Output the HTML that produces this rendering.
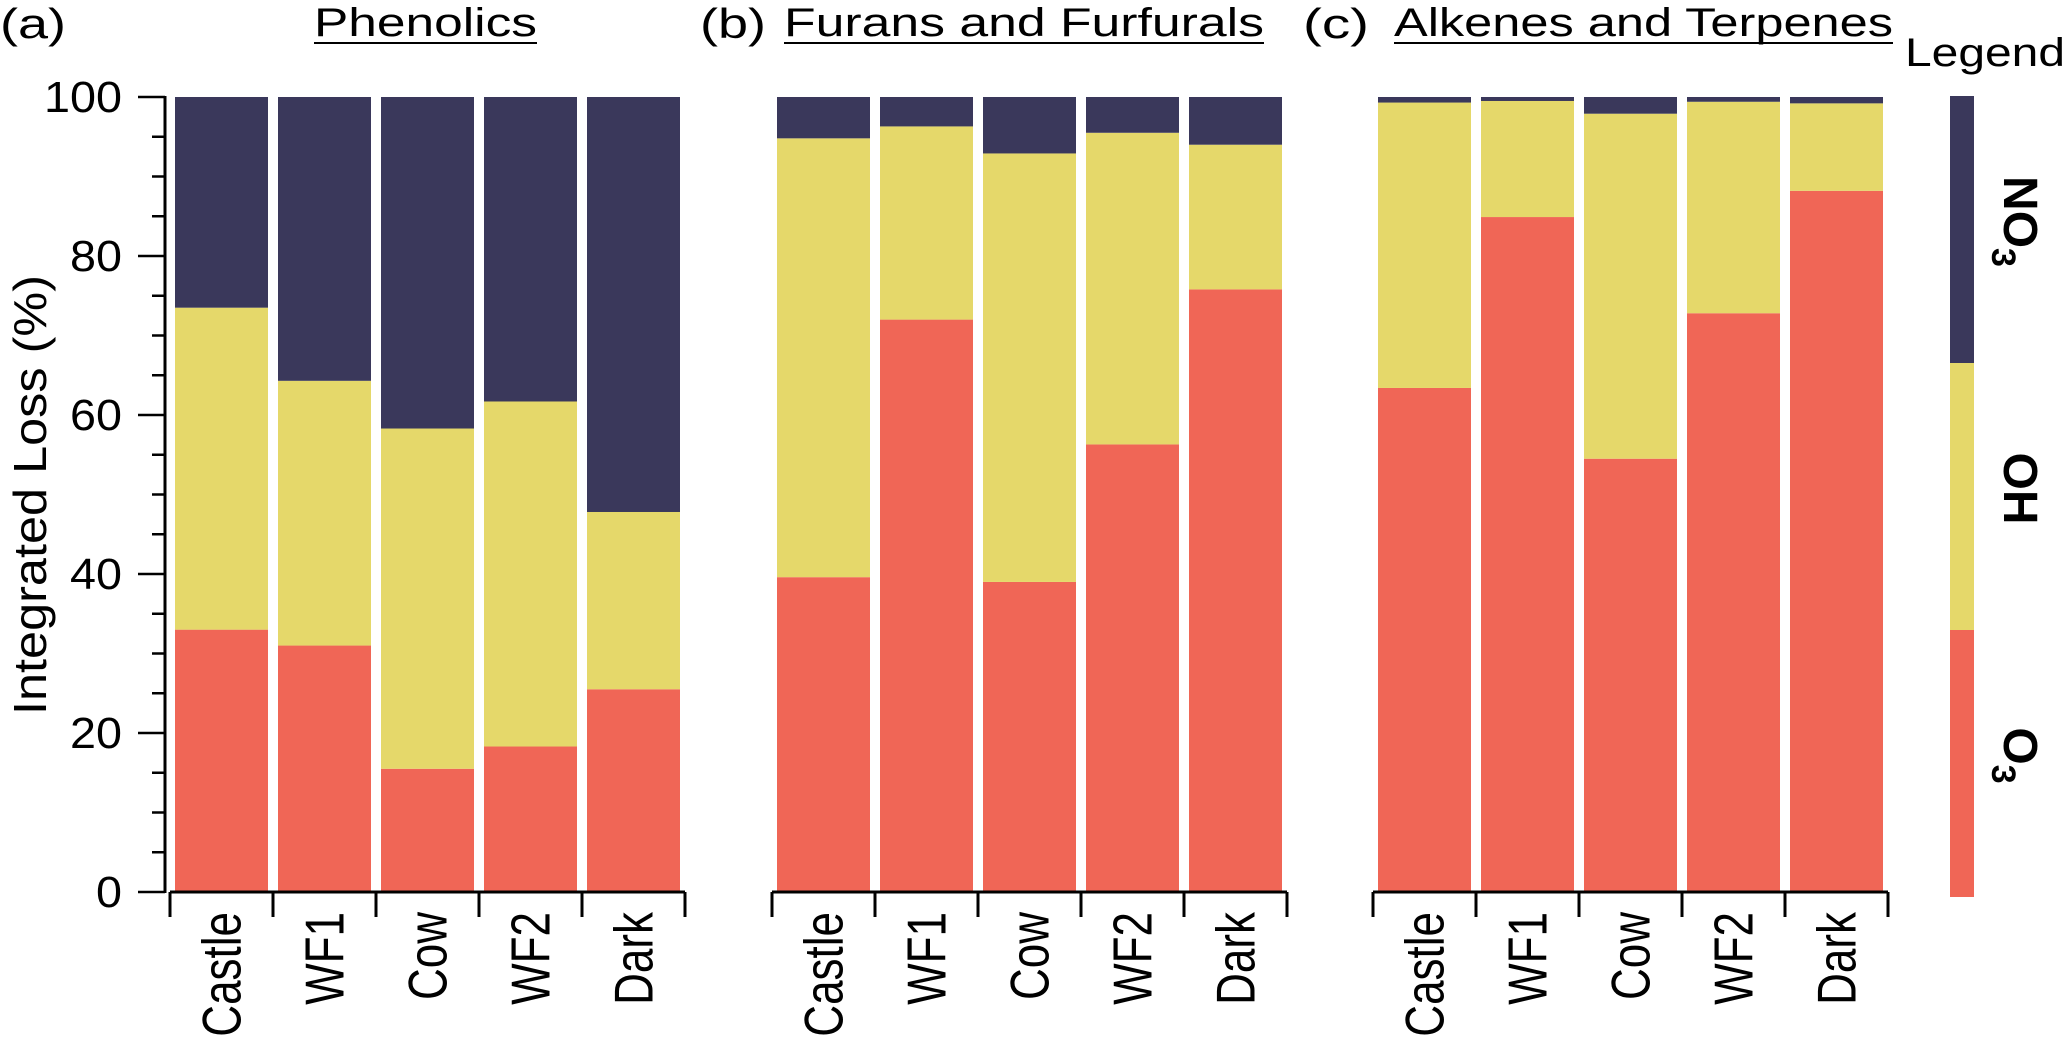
<!DOCTYPE html>
<html><head><meta charset="utf-8"><style>
body{margin:0;background:#fff;}
svg{display:block;font-family:"Liberation Sans",sans-serif;}
</style></head><body>
<svg id="chart" width="2067" height="1053" viewBox="0 0 2067 1053" xmlns="http://www.w3.org/2000/svg"></svg>
<script>
const categories = ["Castle","WF1","Cow","WF2","Dark"];
const panelTitles = ["Phenolics","Furans and Furfurals","Alkenes and Terpenes"];
const panelLetters = ["(a)","(b)","(c)"];
const o3A = [33, 31, 15.5, 18.3, 25.5];
const ohA = [40.5, 33.3, 42.8, 43.4, 22.3];
const no3A = [26.5, 35.7, 41.7, 38.3, 52.2];
const o3B = [39.6, 72, 39, 56.3, 75.8];
const ohB = [55.2, 24.3, 53.9, 39.2, 18.2];
const no3B = [5.2, 3.7, 7.1, 4.5, 6];
const o3C = [63.4, 84.9, 54.5, 72.8, 88.2];
const ohC = [35.9, 14.6, 43.4, 26.6, 11];
const no3C = [0.7, 0.5, 2.1, 0.6, 0.8];
const yTicks = [0, 20, 40, 60, 80, 100];
const seriesNames = ["O3","OH","NO3"];

const svg = document.getElementById('chart');
const NS = "http://www.w3.org/2000/svg";
const colors = {O3:"#f06656", OH:"#e5d86a", NO3:"#3a385b"};
const panelX = [170, 772, 1373];
const catW = 103, barW = 93, barOff = 5;
const y0 = 892, y100 = 97;
function yScale(v){ return y0 - (y0 - y100) * v / 100; }
function mk(tag, attrs, parent){
  const e = document.createElementNS(NS, tag);
  for (const k in attrs) e.setAttribute(k, attrs[k]);
  (parent || svg).appendChild(e);
  return e;
}
const panelData = [[o3A,ohA,no3A],[o3B,ohB,no3B],[o3C,ohC,no3C]];
const titleX = [314, 784, 1394], titleW = [223, 480, 499], letterX = [0, 700, 1303];

panelData.forEach((series, p) => {
  const g = mk('g', {});
  
  
  const px = panelX[p];
  categories.forEach((c, i) => {
    let base = 0;
    series.forEach((vals, s) => {
      const v = vals[i];
      const r = mk('rect', {x: px + i*catW + barOff, y: yScale(base + v), width: barW, height: yScale(base) - yScale(base + v), fill: colors[seriesNames[s]]}, g);
      
      
      base += v;
    });
    const t = mk('text', {transform: `translate(${px + i*catW + catW/2 + 19},912) rotate(-90) scale(0.8,1)`, 'text-anchor':'end', 'font-size':55, fill:'#000'}, g);
    t.textContent = c;
    
    
  });
  const ax = mk('path', {d: `M${px},${y0}H${px+catW*5}`, stroke:'#000', 'stroke-width':3, fill:'none'}, g);
  
  
  for (let i = 0; i <= 5; i++) {
    const tk = mk('line', {x1: px + i*catW, x2: px + i*catW, y1: y0, y2: 917, stroke:'#000', 'stroke-width':3}, g);
    
    
  }
  const lt = mk('text', {x: letterX[p], y: 38, 'font-size':42, fill:'#000', textLength:66, lengthAdjust:'spacingAndGlyphs'}, g);
  lt.textContent = panelLetters[p];
  
  
  const tt = mk('text', {x: titleX[p], y: 36, 'font-size':40, fill:'#000', textLength:titleW[p], lengthAdjust:'spacingAndGlyphs'}, g);
  tt.textContent = panelTitles[p];
  
  
  const ul = mk('line', {x1: titleX[p], x2: titleX[p] + titleW[p], y1: 43, y2: 43, stroke:'#000', 'stroke-width':2}, g);
  
  
});

// y axis
const ya = mk('line', {x1:165, x2:165, y1:y100-1, y2:y0+1, stroke:'#000', 'stroke-width':3});


for (let v = 0; v <= 100; v += 5) {
  const major = v % 20 === 0;
  const l = mk('line', {x1: major ? 138 : 152, x2:165, y1: yScale(v), y2: yScale(v), stroke:'#000', 'stroke-width':2.5});
  
  
}
yTicks.forEach(v => {
  const s = String(v);
  const t = mk('text', {x:122, y: yScale(v)+15, 'text-anchor':'end', 'font-size':44, fill:'#000', textLength: s.length*26, lengthAdjust:'spacingAndGlyphs'});
  t.textContent = s;
  
  
});
const yt = mk('text', {transform:'translate(46,495) rotate(-90)', 'text-anchor':'middle', 'font-size':46, fill:'#000', textLength:440, lengthAdjust:'spacingAndGlyphs'});
yt.textContent = 'Integrated Loss (%)';



// legend
const lg = mk('g', {});


const lh = mk('text', {x:1905, y:66, 'font-size':40, fill:'#000', textLength:160, lengthAdjust:'spacingAndGlyphs'}, lg);
lh.textContent = 'Legend';


const legTop = 96, legBot = 897, segH = (legBot - legTop) / 3;
seriesNames.forEach((s, i) => {
  const r = mk('rect', {x:1950, y: legBot - (i+1)*segH, width:24, height:segH, fill:colors[s]}, lg);
  
  
  const cy = legBot - (i+0.5)*segH - 8;
  const t = mk('text', {transform:`translate(2004,${cy}) rotate(90)`, 'text-anchor':'middle', 'font-size':48, 'font-weight':'bold', fill:'#000'}, lg);
  if (s === 'OH') t.textContent = 'OH';
  else {
    t.appendChild(document.createTextNode(s === 'O3' ? 'O' : 'NO'));
    const sub = mk('tspan', {'font-size':34, dy:12}, t);
    sub.textContent = '3';
  }
  
  
});
</script>
</body></html>
